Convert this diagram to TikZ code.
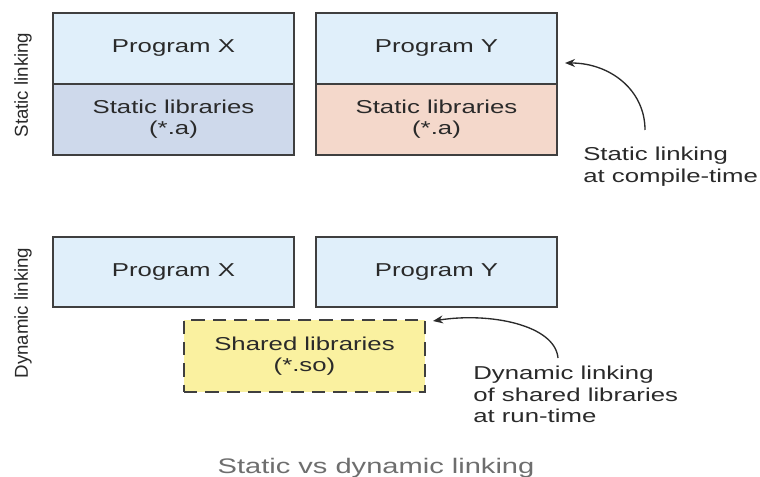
\documentclass[tikz,border=0pt]{standalone}
\usepackage{fontspec}
\setmainfont{Liberation Sans}
\newfontfamily\widesans[FakeStretch=1.38]{Liberation Sans}
\usetikzlibrary{arrows.meta}

\definecolor{edge}{HTML}{3F3F3F}
\definecolor{txt}{HTML}{2A2A2A}
\definecolor{progblue}{HTML}{E0EFFA}
\definecolor{libblue}{HTML}{CED9EB}
\definecolor{libpeach}{HTML}{F4D8CB}
\definecolor{shyellow}{HTML}{FAF1A0}
\definecolor{captiongray}{HTML}{6E6E6E}

\begin{document}
\begin{tikzpicture}[
  x=0.75pt, y=-0.75pt,
  boxtext/.style={font=\widesans\fontsize{14}{15.75}\selectfont, text=txt},
  block/.style={draw=edge, line width=1.3pt, minimum width=180.75pt,
                inner sep=0pt, align=center, boxtext},
  progbox/.style={block, fill=progblue},
  sidelabel/.style={rotate=90, font=\fontsize{14}{16}\selectfont, text=txt, inner sep=0pt},
  note/.style={font=\widesans\fontsize{14}{16.1}\selectfont, text=txt,
               align=left, anchor=north west, inner sep=0pt},
  linkarrow/.style={draw=txt, line width=1pt, -{Stealth[length=7.5pt,width=6pt]}}
]
  % canvas
  \fill[white] (0,0) rectangle (760,477);
  \useasboundingbox (0,0) rectangle (760,477);

  % ---- static linking ----
  \node[sidelabel] (slab) at (23,85) {Static linking};

  \node[progbox, minimum height=53.25pt] (sx) at (173.5,48.5) {Program X};
  \node[block, fill=libblue, minimum height=53.25pt] (sxlib) at (173.5,119.5)
       {Static libraries\\(*.a)};
  \node[progbox, minimum height=53.25pt] (sy) at (436.5,48.5) {Program Y};
  \node[block, fill=libpeach, minimum height=53.25pt] (sylib) at (436.5,119.5)
       {Static libraries\\(*.a)};

  \node[note] (snote) at (583,147) {Static linking\\at compile-time};
  \coordinate (s1) at (645,130);
  \coordinate (t1) at (565,63);
  \draw[linkarrow] (s1) .. controls (645,90) and (610,63) .. (t1);

  % ---- dynamic linking ----
  \node[sidelabel] (dlab) at (23,313) {Dynamic linking};

  \node[progbox, minimum height=52.5pt] (dx) at (173.5,272) {Program X};
  \node[progbox, minimum height=52.5pt] (dy) at (436.5,272) {Program Y};
  \node[block, fill=shyellow, dashed, dash pattern=on 10pt off 6pt,
        minimum height=54pt] (shlib) at (304.5,356) {Shared libraries\\(*.so)};

  \node[note] (dnote) at (473,366) {Dynamic linking\\of shared libraries\\at run-time};
  \coordinate (s2) at (558,358);
  \coordinate (t2) at (433,321);
  \draw[linkarrow] (s2) .. controls (555,325) and (490,312) .. (t2);

  % ---- caption ----
  \node[font=\widesans\fontsize{15.8}{18}\selectfont, text=captiongray,
        anchor=base, inner sep=0pt] (cap) at (376,473) {Static vs dynamic linking};
\end{tikzpicture}
\end{document}
